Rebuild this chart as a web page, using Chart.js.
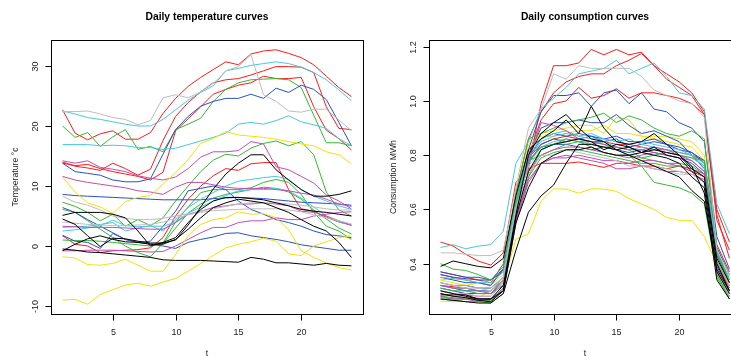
<!DOCTYPE html>
<html>
<head>
<meta charset="utf-8">
<script src="https://cdn.jsdelivr.net/npm/chart.js@4.4.1/dist/chart.umd.min.js"></script>
<style>
  body { margin: 0; background: #fff; overflow: hidden; }
  #wrap { position: relative; width: 731px; height: 356px; overflow: hidden; }
  canvas { position: absolute; top: 0; }
</style>
</head>
<body>
<div id="wrap">
  <canvas id="tempChart" width="365" height="356" style="left:0"></canvas>
  <canvas id="consChart" width="380" height="356" style="left:365px"></canvas>
</div>
<script>
// hours of the day
const hours = [1,2,3,4,5,6,7,8,9,10,11,12,13,14,15,16,17,18,19,20,21,22,23,24];
const xTicks = [5, 10, 15, 20];
const tempTicks = [-10, 0, 10, 20, 30];
const consTicks = [0.4, 0.6, 0.8, 1.0, 1.2];
const consTickLabels = ['0.4', '0.6', '0.8', '1.0', '1.2'];

// daily temperature curves (°c)
const t_red1 = [22.7,18.8,17.7,18.7,19.2,17.8,17.8,18.9,22.1,24.6,26.6,28.1,29.4,30.7,30.2,32.0,32.5,32.7,32.1,31.4,30.2,28.3,26.4,24.9];
const t_gray1 = [22.4,22.4,22.5,22.0,21.4,21.1,20.2,20.9,24.7,25.2,24.7,25.7,27.1,29.2,29.9,31.9,25.2,24.1,22.5,22.3,22.8,22.8,21.0,19.2];
const t_cyan1 = [22.5,22.0,21.4,21.1,20.7,20.3,20.0,20.0,21.1,22.7,24.3,25.6,26.7,29.2,29.6,30.1,30.4,30.7,30.4,29.8,28.9,27.7,26.0,24.2];
const t_red2 = [14.0,13.3,13.0,12.6,13.8,12.9,11.8,12.8,17.6,21.6,23.9,25.7,27.2,27.7,27.9,28.5,29.2,29.9,29.9,29.8,28.9,23.2,19.6,19.4];
const t_red3 = [13.8,13.4,13.6,12.9,12.4,12.0,11.6,11.0,12.3,19.2,21.2,23.2,25.3,26.1,26.8,27.2,28.3,27.9,27.9,28.1,23.2,19.3,17.9,16.0];
const t_blue1 = [13.8,12.4,12.1,11.8,11.0,10.7,10.7,11.2,15.3,19.4,21.6,23.3,24.1,24.6,24.6,25.3,24.6,26.3,25.6,26.8,26.1,24.4,20.6,16.7];
const t_green1 = [20.0,18.1,18.9,16.6,18.2,19.4,16.1,16.6,15.7,19.4,20.3,21.3,24.1,26.1,27.2,27.7,27.8,27.9,27.7,26.4,21.8,17.2,17.2,16.7];
const t_cyan2 = [16.9,16.9,16.9,16.7,16.8,16.7,16.4,16.4,16.1,16.3,16.9,17.5,18.1,18.8,20.3,20.6,20.3,20.9,21.7,20.7,20.2,19.6,17.9,16.7];
const t_yellow1 = [11.5,9.0,7.2,6.5,5.4,7.4,8.1,8.4,10.3,12.2,14.4,17.1,17.9,19.1,18.5,18.3,18.1,17.8,17.4,17.0,16.7,15.7,15.2,13.7];
const t_magenta1 = [14.2,13.8,14.2,13.1,12.8,12.4,11.7,11.3,11.0,11.5,12.9,14.8,15.7,15.7,15.9,17.4,17.0,13.2,12.7,11.6,10.5,8.5,7.5,6.2];
const t_green2 = [7.3,6.6,5.6,4.2,5.3,3.3,4.4,3.4,4.7,7.5,10.0,12.4,14.3,15.3,15.0,16.3,17.1,17.5,16.7,17.4,15.2,9.0,6.0,5.0];
const t_green3 = [6.1,5.6,4.2,2.8,1.4,0.0,-1.1,-1.8,0.5,4.0,6.5,8.9,9.4,9.4,9.4,9.7,10.6,11.1,10.6,8.6,5.6,3.3,2.5,1.1];
const t_blue2 = [8.6,8.4,8.3,8.2,8.1,8.0,7.9,7.8,7.7,7.7,7.7,7.7,7.9,8.0,8.1,8.0,7.9,7.7,7.5,7.3,7.2,7.1,7.0,6.8];
const t_blue3 = [6.4,5.6,4.4,3.3,2.2,1.1,0.6,0.8,3.3,5.8,9.2,9.6,10.0,9.4,7.5,6.1,5.3,4.4,3.9,3.3,2.5,1.9,1.7,1.4];
const t_blue4 = [1.8,0.8,0.6,-0.4,2.1,1.1,0.6,0.3,0.0,-0.4,0.6,1.1,1.5,2.1,2.2,1.7,1.4,1.1,0.7,0.2,-0.1,-0.4,-0.7,-0.7];
const t_black1 = [5.1,5.6,5.6,5.6,5.3,4.7,2.5,0.0,0.6,1.4,3.9,6.1,7.5,8.1,8.1,7.9,7.7,7.2,6.7,6.1,5.8,5.6,5.3,5.0];
const t_black2 = [4.5,3.6,1.7,-0.1,1.3,1.2,0.8,0.5,0.5,1.0,3.5,6.5,9.5,12.0,13.8,15.2,15.2,12.7,11.0,9.4,8.3,8.3,8.6,9.2];
const t_black3 = [-0.8,0.3,1.2,1.7,1.1,0.7,0.6,0.3,0.3,1.1,2.8,4.7,6.4,7.2,7.8,7.5,7.2,6.4,5.6,4.4,3.3,2.5,0.6,-1.9];
const t_black4 = [-0.5,-0.7,-1.0,-1.1,-1.3,-1.5,-1.7,-1.9,-2.3,-2.4,-2.4,-2.4,-2.5,-2.6,-2.7,-1.9,-2.2,-2.8,-2.8,-3.0,-3.2,-2.9,-3.2,-3.3];
const t_gray2 = [8.3,7.3,6.8,6.0,5.0,4.6,4.4,4.4,4.6,5.0,5.4,5.8,6.2,6.6,7.0,7.2,7.2,7.2,7.0,6.8,6.5,6.2,6.0,6.0];
const t_gray3 = [4.0,3.8,3.6,3.5,3.4,3.4,3.5,3.6,4.0,4.6,5.2,5.6,5.9,6.0,6.1,6.2,6.2,6.2,6.0,5.7,5.2,4.7,4.2,3.7];
const t_cyan3 = [3.1,3.2,3.3,3.6,3.9,2.5,3.0,3.4,2.5,4.4,6.4,7.8,8.9,10.0,10.8,11.1,11.4,11.6,11.1,9.4,8.3,7.5,6.7,6.1];
const t_cyan4 = [2.5,2.7,3.0,3.4,4.3,3.4,3.2,3.3,3.3,4.0,5.5,6.5,7.5,8.4,9.2,9.4,9.4,9.6,9.2,8.0,6.5,5.0,4.0,3.5];
const t_magenta2 = [11.6,11.0,10.6,10.3,10.0,9.7,9.2,9.0,8.6,9.8,10.6,10.6,10.2,9.8,9.6,9.6,9.6,9.4,9.2,8.8,8.5,7.8,7.0,6.6];
const t_magenta3 = [3.3,3.2,3.1,3.1,3.1,3.0,2.9,2.8,2.8,3.9,5.3,5.8,6.4,6.7,7.0,7.0,7.2,7.0,6.7,5.8,5.6,5.0,4.2,3.4];
const t_magenta4 = [-0.8,-0.8,-0.7,-0.7,-0.7,-0.8,-0.9,-1.0,-0.9,0.0,1.1,2.2,3.1,3.1,3.9,4.2,4.2,4.7,4.4,4.4,5.0,5.3,5.6,5.7];
const t_red4 = [1.7,0.3,0.0,-1.1,-0.8,-0.7,-0.6,-0.3,1.4,5.0,7.8,10.0,11.7,12.9,12.6,13.7,13.9,13.9,9.4,6.2,5.8,4.8,4.0,3.5];
const t_yellow2 = [-1.8,-2.0,-3.1,-3.2,-2.9,-2.2,-3.2,-4.2,-4.2,-1.4,1.7,3.6,4.4,4.7,5.7,5.3,5.4,4.7,2.7,-0.8,-1.9,-2.8,-3.6,-4.0];
const t_yellow3 = [-9.0,-8.9,-9.7,-8.1,-7.3,-6.5,-6.2,-6.7,-6.0,-5.4,-4.2,-2.9,-1.6,-0.3,0.3,0.7,1.3,0.8,-1.3,-1.6,0.0,0.7,1.4,1.7];
const t_green4 = [1.0,0.9,0.9,0.8,0.6,0.4,0.2,0.0,0.4,3.0,5.5,7.0,8.0,8.6,9.0,9.4,9.8,9.6,9.0,7.8,6.0,4.5,3.0,2.0];

// daily consumption curves (MWh)
const c_red1 = [0.48,0.465,0.435,0.41,0.395,0.44,0.70,0.75,0.99,1.13,1.13,1.14,1.19,1.17,1.19,1.17,1.18,1.13,1.10,1.07,1.03,0.96,0.56,0.45];
const c_red2 = [0.37,0.36,0.35,0.34,0.33,0.40,0.66,0.86,0.96,1.03,1.07,1.09,1.10,1.10,1.13,1.15,1.175,1.13,1.08,1.05,1.02,0.95,0.60,0.48];
const c_gray1 = [0.44,0.44,0.435,0.43,0.43,0.45,0.68,0.90,0.97,1.10,1.08,1.13,1.12,1.12,1.12,1.12,1.09,1.04,1.02,1.00,0.99,0.94,0.45,0.36];
const c_cyan1 = [0.46,0.47,0.455,0.465,0.47,0.52,0.77,0.85,0.97,1.01,1.05,1.10,1.11,1.12,1.15,1.10,1.12,1.14,1.09,1.03,1.02,0.97,0.62,0.51];
const c_red3 = [0.36,0.35,0.34,0.33,0.32,0.38,0.62,0.80,0.93,0.99,1.00,1.05,1.01,1.02,1.045,1.01,1.03,1.03,1.02,1.01,0.99,0.95,0.58,0.42];
const c_blue1 = [0.35,0.34,0.33,0.33,0.32,0.38,0.63,0.82,0.96,1.02,1.02,1.03,0.98,1.03,1.04,0.99,1.03,0.97,0.96,0.92,0.90,0.85,0.50,0.38];
const c_black1 = [0.39,0.41,0.40,0.39,0.385,0.42,0.65,0.82,0.86,0.89,0.93,0.88,0.98,0.90,0.85,0.84,0.85,0.88,0.84,0.80,0.75,0.72,0.42,0.33];
const c_black2 = [0.30,0.29,0.28,0.27,0.27,0.32,0.58,0.80,0.88,0.92,0.95,0.90,0.86,0.85,0.82,0.83,0.81,0.83,0.80,0.79,0.74,0.70,0.40,0.30];
const c_green1 = [0.40,0.38,0.375,0.36,0.34,0.39,0.66,0.86,0.88,0.90,0.92,0.93,0.94,0.955,0.92,0.945,0.93,0.90,0.88,0.87,0.89,0.86,0.45,0.33];
const c_blue2 = [0.37,0.36,0.35,0.35,0.34,0.38,0.62,0.80,0.90,0.92,0.92,0.93,0.92,0.92,0.95,0.91,0.88,0.89,0.87,0.85,0.80,0.75,0.44,0.34];
const c_yellow1 = [0.34,0.33,0.32,0.33,0.32,0.36,0.60,0.82,0.88,0.89,0.90,0.91,0.91,0.88,0.94,0.93,0.87,0.86,0.85,0.84,0.83,0.78,0.42,0.32];
const c_yellow2 = [0.262,0.26,0.27,0.275,0.30,0.33,0.49,0.51,0.63,0.676,0.675,0.66,0.676,0.675,0.667,0.64,0.62,0.60,0.57,0.56,0.56,0.50,0.40,0.35];
const c_magenta1 = [0.32,0.31,0.31,0.30,0.29,0.34,0.58,0.78,0.92,0.91,0.89,0.86,0.85,0.84,0.83,0.82,0.82,0.83,0.82,0.80,0.78,0.74,0.40,0.30];
const c_green2 = [0.28,0.275,0.27,0.265,0.26,0.31,0.62,0.78,0.80,0.82,0.84,0.85,0.83,0.81,0.80,0.80,0.76,0.70,0.69,0.68,0.66,0.62,0.36,0.28];
const c_black3 = [0.27,0.265,0.26,0.255,0.255,0.29,0.45,0.59,0.65,0.69,0.77,0.84,0.84,0.83,0.82,0.80,0.78,0.76,0.74,0.72,0.67,0.63,0.38,0.30];
const c_cyan2 = [0.33,0.32,0.32,0.31,0.31,0.35,0.62,0.79,0.85,0.87,0.88,0.87,0.86,0.86,0.85,0.84,0.85,0.84,0.83,0.82,0.80,0.76,0.44,0.35];
const c_blue3 = [0.32,0.31,0.30,0.30,0.30,0.34,0.60,0.77,0.84,0.86,0.85,0.86,0.87,0.85,0.86,0.83,0.84,0.85,0.84,0.82,0.81,0.78,0.46,0.36];
const c_magenta2 = [0.30,0.29,0.285,0.28,0.28,0.33,0.58,0.74,0.80,0.82,0.83,0.83,0.82,0.81,0.80,0.79,0.80,0.81,0.80,0.79,0.78,0.74,0.40,0.31];
const c_gray2 = [0.33,0.32,0.31,0.31,0.30,0.35,0.61,0.76,0.82,0.84,0.85,0.86,0.84,0.83,0.82,0.80,0.78,0.76,0.75,0.74,0.73,0.70,0.38,0.29];
const c_red4 = [0.32,0.315,0.31,0.30,0.30,0.34,0.64,0.75,0.77,0.77,0.77,0.775,0.765,0.755,0.77,0.77,0.76,0.76,0.75,0.76,0.74,0.72,0.41,0.32];
const c_green3 = [0.31,0.30,0.30,0.29,0.29,0.33,0.60,0.78,0.83,0.84,0.86,0.85,0.85,0.84,0.82,0.80,0.79,0.78,0.77,0.77,0.76,0.73,0.37,0.28];
const c_cyan3 = [0.35,0.345,0.34,0.33,0.33,0.37,0.63,0.80,0.86,0.88,0.89,0.87,0.88,0.86,0.85,0.86,0.84,0.83,0.82,0.81,0.80,0.77,0.45,0.34];
const c_magenta3 = [0.29,0.28,0.275,0.27,0.27,0.31,0.55,0.70,0.77,0.79,0.80,0.79,0.78,0.77,0.75,0.75,0.76,0.75,0.74,0.74,0.73,0.71,0.38,0.29];
const c_blue4 = [0.31,0.30,0.29,0.29,0.29,0.32,0.59,0.78,0.83,0.84,0.84,0.83,0.82,0.83,0.82,0.81,0.82,0.81,0.80,0.79,0.77,0.73,0.39,0.30];
const c_black4 = [0.29,0.28,0.275,0.265,0.26,0.30,0.57,0.74,0.82,0.84,0.85,0.86,0.85,0.82,0.84,0.83,0.81,0.82,0.81,0.80,0.76,0.66,0.34,0.27];
const c_green4 = [0.27,0.265,0.26,0.26,0.255,0.29,0.55,0.72,0.82,0.84,0.85,0.86,0.84,0.83,0.83,0.82,0.79,0.80,0.81,0.80,0.79,0.78,0.36,0.27];
const c_yellow3 = [0.34,0.345,0.34,0.33,0.34,0.37,0.64,0.84,0.87,0.87,0.88,0.89,0.89,0.91,0.88,0.88,0.87,0.87,0.87,0.86,0.85,0.80,0.43,0.34];
const c_gray3 = [0.30,0.29,0.29,0.28,0.28,0.33,0.59,0.73,0.80,0.80,0.82,0.81,0.80,0.79,0.78,0.76,0.76,0.75,0.74,0.73,0.73,0.70,0.37,0.28];
const c_magenta4 = [0.28,0.27,0.27,0.26,0.27,0.30,0.56,0.71,0.77,0.79,0.79,0.80,0.79,0.78,0.78,0.77,0.78,0.78,0.77,0.76,0.75,0.73,0.37,0.29];
const c_red5 = [0.33,0.32,0.32,0.31,0.31,0.35,0.62,0.79,0.84,0.86,0.87,0.86,0.85,0.85,0.84,0.84,0.83,0.82,0.82,0.81,0.80,0.78,0.47,0.37];
const c_blue5 = [0.36,0.35,0.345,0.34,0.34,0.37,0.61,0.79,0.86,0.88,0.87,0.88,0.87,0.86,0.87,0.85,0.85,0.86,0.84,0.83,0.81,0.77,0.43,0.33];
const c_cyan4 = [0.32,0.31,0.31,0.30,0.30,0.34,0.60,0.77,0.83,0.85,0.86,0.85,0.84,0.85,0.83,0.82,0.83,0.82,0.81,0.80,0.79,0.76,0.41,0.31];
const c_green5 = [0.275,0.27,0.27,0.265,0.265,0.30,0.56,0.72,0.79,0.81,0.82,0.82,0.81,0.80,0.79,0.78,0.77,0.77,0.76,0.76,0.75,0.72,0.35,0.27];
const c_black5 = [0.285,0.285,0.285,0.27,0.27,0.30,0.55,0.68,0.77,0.80,0.82,0.82,0.83,0.81,0.80,0.80,0.81,0.80,0.79,0.77,0.72,0.68,0.37,0.29];

// R-like palette
const pal = {
  black: '#000000', red: '#ff1a1a', green: '#33b833', blue: '#2850c0',
  cyan: '#45c8dc', magenta: '#c04cb4', yellow: '#f2e200', gray: '#bdbdbd'
};

const tempSeries = [
  [t_black4, 'black'], [t_black3, 'black'], [t_black2, 'black'], [t_black1, 'black'],
  [t_gray1, 'gray'], [t_gray2, 'gray'], [t_gray3, 'gray'],
  [t_yellow3, 'yellow'], [t_yellow2, 'yellow'], [t_yellow1, 'yellow'],
  [t_magenta4, 'magenta'], [t_magenta3, 'magenta'], [t_magenta2, 'magenta'], [t_magenta1, 'magenta'],
  [t_cyan4, 'cyan'], [t_cyan3, 'cyan'], [t_cyan2, 'cyan'], [t_cyan1, 'cyan'],
  [t_blue4, 'blue'], [t_blue3, 'blue'], [t_blue2, 'blue'], [t_blue1, 'blue'],
  [t_green4, 'green'], [t_green3, 'green'], [t_green2, 'green'], [t_green1, 'green'],
  [t_red4, 'red'], [t_red3, 'red'], [t_red2, 'red'], [t_red1, 'red']
];

const consSeries = [
  [c_black5, 'black'], [c_black4, 'black'], [c_black3, 'black'], [c_black2, 'black'], [c_black1, 'black'],
  [c_gray3, 'gray'], [c_gray2, 'gray'], [c_gray1, 'gray'],
  [c_magenta4, 'magenta'], [c_magenta3, 'magenta'], [c_magenta2, 'magenta'], [c_magenta1, 'magenta'],
  [c_green5, 'green'], [c_green4, 'green'], [c_green3, 'green'], [c_green2, 'green'], [c_green1, 'green'],
  [c_cyan4, 'cyan'], [c_cyan3, 'cyan'], [c_cyan2, 'cyan'], [c_cyan1, 'cyan'],
  [c_blue5, 'blue'], [c_blue4, 'blue'], [c_blue3, 'blue'], [c_blue2, 'blue'], [c_blue1, 'blue'],
  [c_yellow3, 'yellow'], [c_yellow2, 'yellow'], [c_yellow1, 'yellow'],
  [c_red5, 'red'], [c_red4, 'red'], [c_red3, 'red'], [c_red2, 'red'], [c_red1, 'red']
];

const FONT = "'Liberation Sans', Arial, Helvetica, sans-serif";

// draws the R style frame: box, ticks, labels and titles
const rFrame = {
  id: 'rFrame',
  afterDraw(chart, args, opts) {
    const ctx = chart.ctx;
    const a = chart.chartArea;
    const xs = chart.scales.x, ys = chart.scales.y;
    ctx.save();
    ctx.strokeStyle = '#000';
    ctx.fillStyle = '#000';
    ctx.lineWidth = 1;
    ctx.strokeRect(Math.round(a.left) + 0.5, Math.round(a.top) + 0.5,
      Math.round(a.right - a.left), Math.round(a.bottom - a.top));

    ctx.font = '9px ' + FONT;
    ctx.textAlign = 'center';
    ctx.textBaseline = 'middle';
    ctx.fillStyle = '#222';
    const bottom = Math.round(a.bottom) + 0.5;
    xTicks.forEach(v => {
      const px = Math.round(xs.getPixelForValue(v)) + 0.5;
      ctx.beginPath();
      ctx.moveTo(px, bottom);
      ctx.lineTo(px, bottom + 6);
      ctx.stroke();
      ctx.fillText(String(v), px, a.bottom + 18.5);
    });
    const left = Math.round(a.left) + 0.5;
    opts.yTicks.forEach((v, i) => {
      const py = Math.round(ys.getPixelForValue(v)) + 0.5;
      ctx.beginPath();
      ctx.moveTo(left - 6, py);
      ctx.lineTo(left, py);
      ctx.stroke();
      ctx.save();
      ctx.translate(a.left - 15.5, py);
      ctx.rotate(-Math.PI / 2);
      ctx.fillText(opts.yLabels[i], 0, 0);
      ctx.restore();
    });

    const cx = (a.left + a.right) / 2;
    ctx.fillStyle = '#000';
    ctx.font = 'bold 10.3px ' + FONT;
    ctx.fillText(opts.title, cx, 17);
    ctx.fillStyle = '#222';
    ctx.font = '8.7px ' + FONT;
    ctx.fillText('t', cx, 354);
    ctx.save();
    ctx.translate(a.left - 35.5, (a.top + a.bottom) / 2);
    ctx.rotate(-Math.PI / 2);
    ctx.fillText(opts.ylab, 0, 0);
    ctx.restore();
    ctx.restore();
  }
};

function makeDatasets(series) {
  return series.map(([values, col]) => ({
    data: values.map((v, i) => ({ x: hours[i], y: v })),
    borderColor: pal[col],
    borderWidth: 1,
    pointRadius: 0,
    fill: false,
    tension: 0
  }));
}

function makeChart(id, series, yMin, yMax, padding, frame) {
  return new Chart(document.getElementById(id), {
    type: 'line',
    data: { datasets: makeDatasets(series) },
    options: {
      responsive: false,
      animation: false,
      layout: { padding: padding },
      scales: {
        x: { type: 'linear', min: 0.08, max: 24.92, display: false },
        y: { type: 'linear', min: yMin, max: yMax, display: false }
      },
      plugins: { legend: { display: false }, tooltip: { enabled: false }, rFrame: frame }
    },
    plugins: [rFrame]
  });
}

makeChart('tempChart', tempSeries, -11.33, 34.33,
  { left: 51, right: 2, top: 40, bottom: 42 },
  { title: 'Daily temperature curves', ylab: 'Temperature °c',
    yTicks: tempTicks, yLabels: tempTicks.map(String) });

makeChart('consChart', consSeries, 0.2146, 1.2247,
  { left: 64, right: 4, top: 40, bottom: 42 },
  { title: 'Daily consumption curves', ylab: 'Consumption MWh',
    yTicks: consTicks, yLabels: consTickLabels });
</script>
</body>
</html>
